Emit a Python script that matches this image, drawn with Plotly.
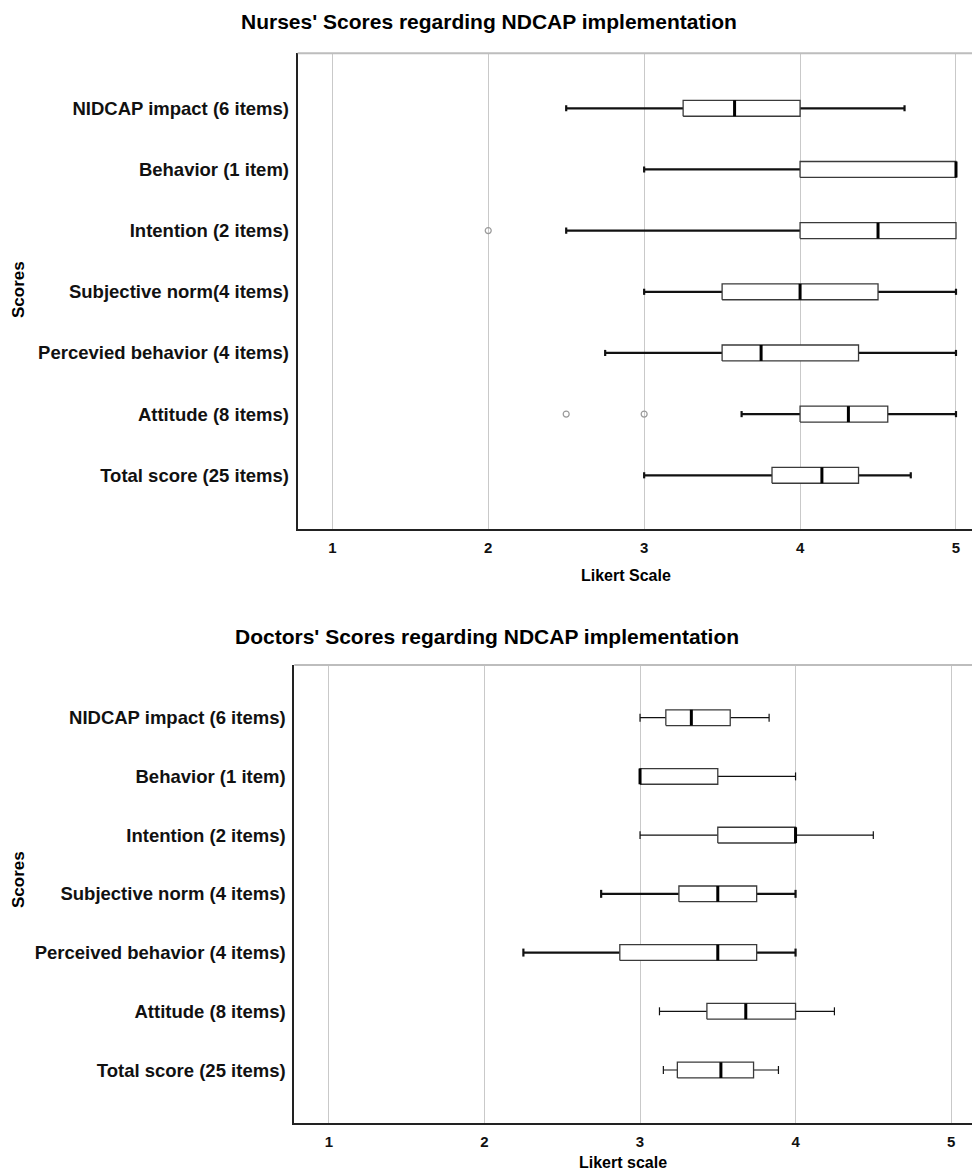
import plotly.graph_objects as go

# ---------------- data ----------------
categories_nurses = ["Total score (25 items)", "Attitude (8 items)", "Percevied behavior (4 items)",
                     "Subjective norm(4 items)", "Intention (2 items)", "Behavior (1 item)",
                     "NIDCAP impact (6 items)"]
n_low = [3.0, 3.625, 2.75, 3.0, 2.5, 3.0, 2.5]
n_q1 = [3.82, 4.0, 3.5, 3.5, 4.0, 4.0, 3.25]
n_med = [4.14, 4.31, 3.75, 4.0, 4.5, 5.0, 3.58]
n_q3 = [4.375, 4.5625, 4.375, 4.5, 5.0, 5.0, 4.0]
n_high = [4.71, 5.0, 5.0, 5.0, 5.0, 5.0, 4.67]
n_outlier_row = [1, 1, 4]
n_outlier_val = [2.5, 3.0, 2.0]

categories_doctors = ["Total score (25 items)", "Attitude (8 items)", "Perceived behavior (4 items)",
                      "Subjective norm (4 items)", "Intention (2 items)", "Behavior (1 item)",
                      "NIDCAP impact (6 items)"]
d_low = [3.15, 3.125, 2.25, 2.75, 3.0, 3.0, 3.0]
d_q1 = [3.24, 3.43, 2.87, 3.25, 3.5, 3.0, 3.166]
d_med = [3.52, 3.68, 3.5, 3.5, 4.0, 3.0, 3.33]
d_q3 = [3.73, 4.0, 3.75, 3.75, 4.0, 3.5, 3.58]
d_high = [3.89, 4.25, 4.0, 4.0, 4.5, 4.0, 3.83]
d_thick_whisker = [False, False, True, True, False, False, False]

x_ticks = [1, 2, 3, 4, 5]

# ---------------- style / geometry ----------------
# the page puts the figure 8 px from the top-left corner of the window
OFF = 8
W, H = 980 - OFF, 1172 - OFF


def px(x):
    return (x - OFF) / W


def py(y):
    return 1 - (y - OFF) / H


SANS = "Liberation Sans, Arial, sans-serif"
CAT_FONT = dict(family=SANS, size=18.5, color="#111", weight="bold")
BOX_LINE = "#3a3a3a"

fig = go.Figure()


def add_panel(xa, ya, low, q1, med, q3, high, box_half, cap_half, thick_flags, out_rows=None, out_vals=None):
    rows = list(range(len(med)))
    for thick in (False, True):
        wx, wy, cx, cy = [], [], [], []
        for i in rows:
            if bool(thick_flags[i]) != thick:
                continue
            if low[i] < q1[i]:
                wx += [low[i], q1[i], None]
                wy += [i, i, None]
                cx += [low[i], low[i], None]
                cy += [i - cap_half, i + cap_half, None]
            if high[i] > q3[i]:
                wx += [q3[i], high[i], None]
                wy += [i, i, None]
                cx += [high[i], high[i], None]
                cy += [i - cap_half, i + cap_half, None]
        if wx:
            w = 2.2 if thick else 1.2
            fig.add_trace(go.Scatter(x=wx + cx, y=wy + cy, mode="lines", xaxis=xa, yaxis=ya,
                                     line=dict(color="#111", width=w), hoverinfo="skip",
                                     showlegend=False))
    # boxes
    for i in rows:
        fig.add_trace(go.Scatter(x=[q1[i], q3[i], q3[i], q1[i], q1[i]],
                                 y=[i - box_half, i - box_half, i + box_half, i + box_half, i - box_half],
                                 mode="lines", fill="toself", fillcolor="white", xaxis=xa, yaxis=ya,
                                 line=dict(color=BOX_LINE, width=1.3), hoverinfo="skip",
                                 showlegend=False))
    # medians
    mx, my = [], []
    for i in rows:
        mx += [med[i], med[i], None]
        my += [i - box_half, i + box_half, None]
    fig.add_trace(go.Scatter(x=mx, y=my, mode="lines", xaxis=xa, yaxis=ya,
                             line=dict(color="#000", width=3), hoverinfo="skip", showlegend=False))
    if out_rows:
        fig.add_trace(go.Scatter(x=out_vals, y=out_rows, mode="markers", xaxis=xa, yaxis=ya,
                                 marker=dict(symbol="circle-open", size=6, color="#9a9a9a",
                                             line=dict(width=1.2)),
                                 hoverinfo="skip", showlegend=False))


add_panel("x", "y", n_low, n_q1, n_med, n_q3, n_high, 0.13, 0.05, [True] * 7,
          n_outlier_row, n_outlier_val)
add_panel("x2", "y2", d_low, d_q1, d_med, d_q3, d_high, 0.134, 0.068, d_thick_whisker)

xaxis_common = dict(tickvals=x_ticks, ticktext=[str(v) for v in x_ticks], showgrid=True,
                    gridcolor="#c9c9c9", gridwidth=1, showline=True, linecolor="#222", linewidth=2,
                    ticks="", zeroline=False, mirror=False, ticklabelstandoff=4,
                    tickfont=dict(family=SANS, size=15, color="#111", weight="bold"))
yaxis_common = dict(tickvals=list(range(7)), showgrid=False, showline=True, linecolor="#222",
                    linewidth=2, ticks="", zeroline=False, tickfont=CAT_FONT, ticklabelstandoff=3)

fig.update_layout(
    width=W, height=H, paper_bgcolor="white", plot_bgcolor="white",
    margin=dict(l=0, r=0, t=0, b=0),
    xaxis=dict(xaxis_common, domain=[px(297.7), 1.0], range=[0.778, 5.154], anchor="y"),
    yaxis=dict(yaxis_common, domain=[py(529.3), py(53.3)], range=[-0.883, 6.899],
               ticktext=categories_nurses, anchor="x"),
    xaxis2=dict(xaxis_common, domain=[px(294.3), 1.0], range=[0.777, 5.186], anchor="y2"),
    yaxis2=dict(yaxis_common, domain=[py(1122.7), py(665)], range=[-0.897, 6.897],
                ticktext=categories_doctors, anchor="x2"),
)

# light gray top border of each plot area
fig.add_shape(type="line", xref="paper", yref="paper", x0=px(297.7), x1=1, y0=py(53.3), y1=py(53.3),
              line=dict(color="#bdbdbd", width=2))
fig.add_shape(type="line", xref="paper", yref="paper", x0=px(294.3), x1=1, y0=py(665), y1=py(665),
              line=dict(color="#bdbdbd", width=2))

TITLE_FONT = dict(family=SANS, size=21, color="#000", weight="bold")
AX_FONT = dict(family=SANS, size=16, color="#000", weight="bold")
SC_FONT = dict(family=SANS, size=17, color="#000", weight="bold")
annots = [
    dict(text="Nurses' Scores regarding NDCAP implementation", x=px(489), y=py(22), font=TITLE_FONT),
    dict(text="Doctors' Scores regarding NDCAP implementation", x=px(487), y=py(636), font=TITLE_FONT),
    dict(text="Likert Scale", x=px(626), y=py(575), font=AX_FONT),
    dict(text="Likert scale", x=px(623), y=py(1162), font=AX_FONT),
    dict(text="Scores", x=px(18), y=py(290), textangle=-90, font=SC_FONT),
    dict(text="Scores", x=px(18), y=py(880), textangle=-90, font=SC_FONT),
]
for a in annots:
    fig.add_annotation(xref="paper", yref="paper", showarrow=False, xanchor="center", yanchor="middle", **a)

fig.write_html("out.html")
